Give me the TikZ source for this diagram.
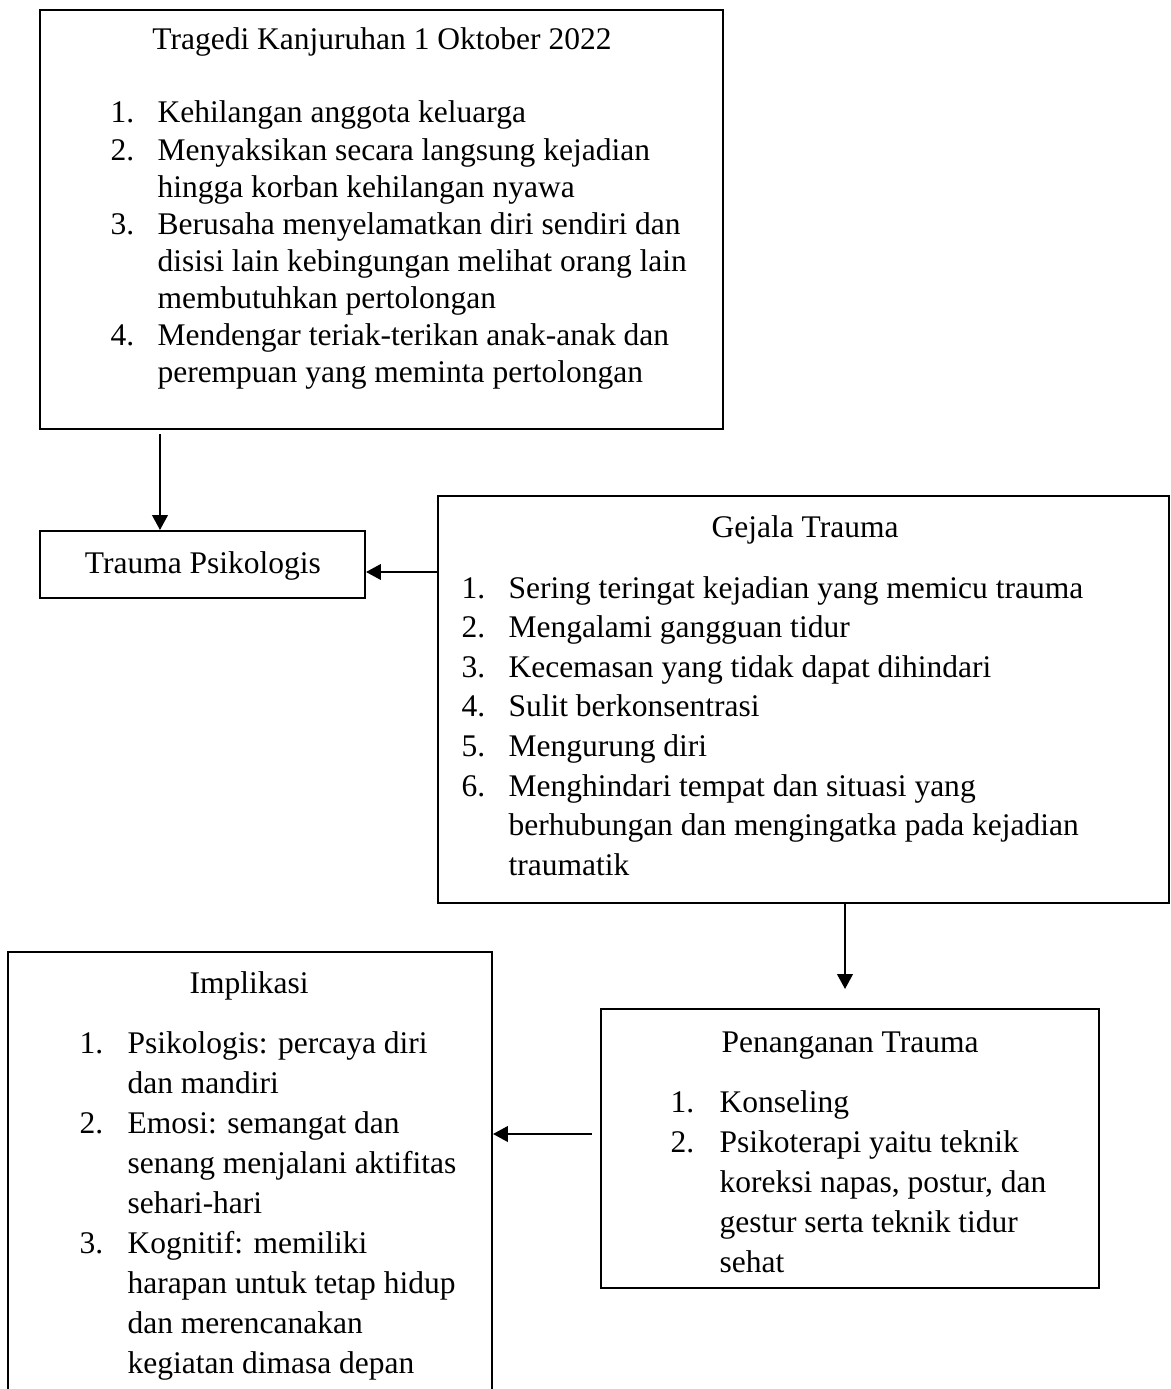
\documentclass[tikz,border=0pt]{standalone}
\usepackage{fontspec}
\setmainfont{Liberation Serif}
\usetikzlibrary{arrows.meta,positioning,fit,calc}
\begin{document}
\begin{tikzpicture}[x=0.380952pt,y=-0.380952pt,
  box/.style={draw, line width=0.78pt, inner sep=0pt},
  ttl/.style={anchor=base, inner sep=0pt, font=\fontsize{12}{14}\selectfont},
  txt/.style={anchor=base west, inner sep=0pt, font=\fontsize{12}{14}\selectfont},
  arr/.style={line width=0.72pt, -{Triangle[length=5.7pt,width=6pt]}}]
\useasboundingbox (0,0) rectangle (1170,1389);
\fill[white] (0,0) rectangle (1170,1389);
\clip (0,0) rectangle (1170,1389);

% boxes
\node[box, fit={(40,10)(723,429)}] (tragedi) {};
\node[box, fit={(40,531)(365,598)}] (trauma) {};
\node[box, fit={(438,496)(1169,903)}] (gejala) {};
\node[box, fit={(601,1009)(1099,1288)}] (penanganan) {};
\node[box, fit={(8,952)(492,1420)}] (implikasi) {};

% titles
\node[ttl] (tragediT) at (382,50) {Tragedi Kanjuruhan 1 Oktober 2022};
\node[ttl] (traumaT) at (203,573) {Trauma Psikologis};
\node[ttl] (gejalaT) at (805,537) {Gejala Trauma};
\node[ttl] (penangananT) at (850,1052) {Penanganan Trauma};
\node[ttl] (implikasiT) at (249,993) {Implikasi};

% Tragedi list
\foreach \n/\k in {1/0,2/1,3/3,4/6}
  \node[txt] (tn\n) at (110,123+37.1*\k) {\n.};
\foreach \t [count=\i from 0] in {
  Kehilangan anggota keluarga,
  Menyaksikan secara langsung kejadian,
  hingga korban kehilangan nyawa,
  Berusaha menyelamatkan diri sendiri dan,
  disisi lain kebingungan melihat orang lain,
  membutuhkan pertolongan,
  Mendengar teriak-terikan anak-anak dan,
  perempuan yang meminta pertolongan}
  \node[txt] (tt\i) at (157,123+37.1*\i) {\t};

% Gejala list
\foreach \n/\k in {1/0,2/1,3/2,4/3,5/4,6/5}
  \node[txt] (gn\n) at (461,598+39.6*\k) {\n.};
\foreach \t [count=\i from 0] in {
  Sering teringat kejadian yang memicu trauma,
  Mengalami gangguan tidur,
  Kecemasan yang tidak dapat dihindari,
  Sulit berkonsentrasi,
  Mengurung diri,
  Menghindari tempat dan situasi yang,
  berhubungan dan mengingatka pada kejadian,
  traumatik}
  \node[txt] (gt\i) at (508,598+39.6*\i) {\t};

% Penanganan list
\foreach \n/\k in {1/0,2/1}
  \node[txt] (pn\n) at (670,1112+40*\k) {\n.};
\foreach \t [count=\i from 0] in {
  Konseling,
  Psikoterapi yaitu teknik,
  {koreksi napas, postur, dan},
  gestur serta teknik tidur,
  sehat}
  \node[txt] (pt\i) at (719,1112+40*\i) {\t};

% Implikasi list
\foreach \n/\k in {1/0,2/2,3/5}
  \node[txt] (in\n) at (79,1053+40*\k) {\n.};
\foreach \t [count=\i from 0] in {
  Psikologis: percaya diri,
  dan mandiri,
  Emosi: semangat dan,
  senang menjalani aktifitas,
  sehari-hari,
  Kognitif: memiliki,
  harapan untuk tetap hidup,
  dan merencanakan,
  kegiatan dimasa depan}
  \node[txt] (it\i) at (127,1053+40*\i) {\t};

% connectors
\draw[arr] ($(tragedi.south west)+(121,4)$) -- ($(trauma.north west)+(121,0)$);
\coordinate (a2) at ($(trauma.east)+(0,7.5)$);
\draw[arr] (gejala.west |- a2) -- (a2);
\draw[arr] ($(penanganan.north |- gejala.south)+(-5,0)$) -- ($(penanganan.north)+(-5,-19)$);
\coordinate (a4) at ($(penanganan.west)+(-8,-14.5)$);
\draw[arr] (a4) -- (implikasi.east |- a4);
\end{tikzpicture}
\end{document}
